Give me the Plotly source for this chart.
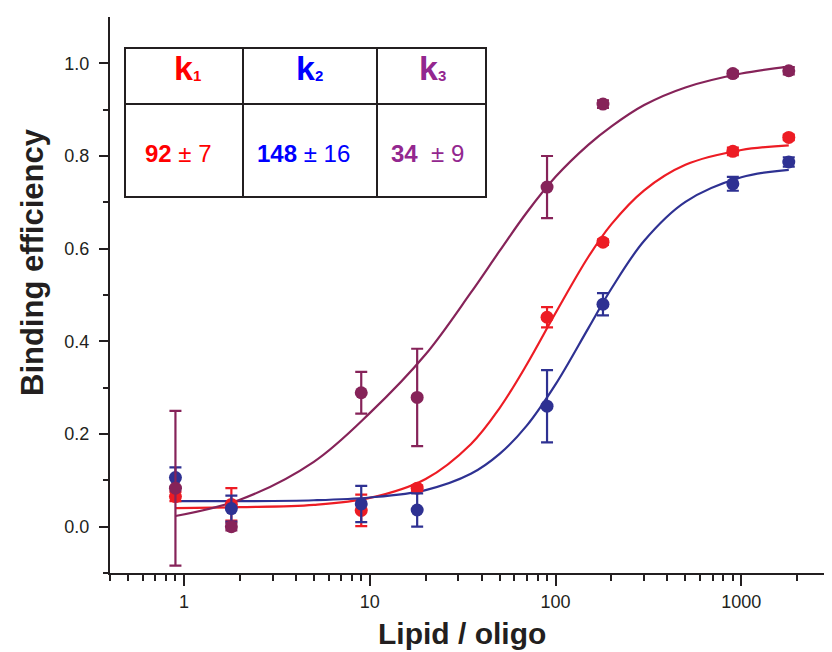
import plotly.graph_objects as go

# ---------------- data ----------------
lipid_oligo = [0.9, 1.8, 9, 18, 90, 180, 900, 1800]

k1_values = [0.065, 0.048, 0.035, 0.083, 0.452, 0.614, 0.810, 0.840]
k1_errors = [0.010, 0.035, 0.034, 0.006, 0.022, 0.006, 0.008, 0.006]

k2_values = [0.106, 0.039, 0.049, 0.036, 0.260, 0.480, 0.740, 0.787]
k2_errors = [0.022, 0.028, 0.039, 0.036, 0.078, 0.024, 0.015, 0.010]

k3_values = [0.083, 0.000, 0.289, 0.279, 0.733, 0.912, 0.978, 0.984]
k3_errors = [0.167, 0.008, 0.045, 0.105, 0.067, 0.008, 0.006, 0.008]

# fitted curves
fit_x = [0.9, 2, 5, 10, 20, 35, 50, 70, 100, 150, 200, 300, 500, 1000, 1800]
fit_k1 = [0.040, 0.042, 0.047, 0.062, 0.103, 0.178, 0.256, 0.350, 0.461, 0.582,
          0.653, 0.726, 0.781, 0.813, 0.823]
fit_k2 = [0.055, 0.055, 0.057, 0.063, 0.079, 0.114, 0.157, 0.218, 0.307, 0.428,
          0.514, 0.617, 0.701, 0.754, 0.770]
fit_k3 = [0.023, 0.058, 0.140, 0.245, 0.372, 0.505, 0.595, 0.678, 0.755, 0.824,
          0.864, 0.910, 0.948, 0.978, 0.993]

table_headers = ["k", "k", "k"]
table_subscripts = ["1", "2", "3"]
table_main = ["92", "148", "34"]
table_err = [" ± 7", " ± 16", "  ± 9"]

x_major_ticks = [1, 10, 100, 1000]
x_major_labels = ["1", "10", "100", "1000"]
x_minor_ticks = [0.4, 0.5, 0.6, 0.7, 0.8, 0.9,
                 2, 3, 4, 5, 6, 7, 8, 9,
                 20, 30, 40, 50, 60, 70, 80, 90,
                 200, 300, 400, 500, 600, 700, 800, 900,
                 2000, 3000]
y_major_ticks = [0.0, 0.2, 0.4, 0.6, 0.8, 1.0]
y_major_labels = ["0.0", "0.2", "0.4", "0.6", "0.8", "1.0"]
y_minor_ticks = [-0.1, 0.1, 0.3, 0.5, 0.7, 0.9]

# ---------------- styles ----------------
RED = "#ED1C24"
NAVY = "#2E3192"
PLUM = "#862359"
TXT_RED = "#FF0000"
TXT_BLUE = "#0000FF"
TXT_PURPLE = "#93278F"
INK = "#231F20"
FONT = "Liberation Sans, Arial, sans-serif"

OFF = 8  # page body margin
W, H = 824, 644
ML, MR, MT, MB = 102, 2, 9, 79
PW, PH = W - ML - MR, H - MT - MB


def px(xp):
    # screenshot pixel -> paper x
    return (xp - OFF - ML) / PW


def py(yp):
    # screenshot pixel -> paper y
    return (H - MB - (yp - OFF)) / PH


fig = go.Figure()

for fy, col in [(fit_k1, RED), (fit_k2, NAVY), (fit_k3, PLUM)]:
    fig.add_trace(go.Scatter(x=fit_x, y=fy, mode="lines",
                             line=dict(color=col, width=2.2, shape="spline", smoothing=1.0),
                             hoverinfo="skip", showlegend=False))

for vals, errs, col in [(k1_values, k1_errors, RED), (k2_values, k2_errors, NAVY),
                        (k3_values, k3_errors, PLUM)]:
    fig.add_trace(go.Scatter(x=lipid_oligo, y=vals, mode="markers",
                             marker=dict(color=col, size=13, line=dict(width=0)),
                             error_y=dict(type="data", array=errs, visible=True,
                                          color=col, thickness=2.2, width=6),
                             showlegend=False))

fig.update_xaxes(type="log", range=[-0.39794, 3.47712],
                 showline=True, linecolor=INK, linewidth=2,
                 ticks="outside", ticklen=11, tickwidth=2, tickcolor=INK,
                 tickmode="array", tickvals=x_major_ticks, ticktext=x_major_labels,
                 minor=dict(tickmode="array", tickvals=x_minor_ticks, ticks="outside",
                            ticklen=6, tickwidth=1.5, tickcolor=INK, showgrid=False),
                 showgrid=False, zeroline=False,
                 tickfont=dict(family=FONT, size=18, color=INK),
                 ticklabelstandoff=0)

fig.update_yaxes(range=[-0.1, 1.1],
                 showline=True, linecolor=INK, linewidth=2,
                 ticks="outside", ticklen=9, tickwidth=2, tickcolor=INK,
                 tickmode="array", tickvals=y_major_ticks, ticktext=y_major_labels,
                 minor=dict(tickmode="array", tickvals=y_minor_ticks, ticks="outside",
                            ticklen=5, tickwidth=1.5, tickcolor=INK, showgrid=False),
                 showgrid=False, zeroline=False,
                 tickfont=dict(family=FONT, size=18, color=INK),
                 ticklabelstandoff=6)

annotations = [
    dict(text="<b>Lipid / oligo</b>", x=px(462), y=py(633), xref="paper", yref="paper",
         showarrow=False, xanchor="center", yanchor="middle",
         font=dict(family=FONT, size=30, color=INK)),
    dict(text="<b>Binding efficiency</b>", x=px(32), y=py(262), xref="paper", yref="paper",
         showarrow=False, xanchor="center", yanchor="middle", textangle=-90,
         font=dict(family=FONT, size=31, color=INK)),
]

# table
shapes = [
    dict(type="rect", xref="paper", yref="paper", x0=px(125), x1=px(486), y0=py(197), y1=py(48),
         line=dict(color=INK, width=2), fillcolor="white", layer="above"),
    dict(type="line", xref="paper", yref="paper", x0=px(243), x1=px(243), y0=py(197), y1=py(48),
         line=dict(color=INK, width=2), layer="above"),
    dict(type="line", xref="paper", yref="paper", x0=px(377), x1=px(377), y0=py(197), y1=py(48),
         line=dict(color=INK, width=2), layer="above"),
    dict(type="line", xref="paper", yref="paper", x0=px(125), x1=px(486), y0=py(104), y1=py(104),
         line=dict(color=INK, width=2), layer="above"),
]

txt_cols = [TXT_RED, TXT_BLUE, TXT_PURPLE]
k_x = [183, 305, 428]
sub_x = [197, 319, 442]
val_x = [178, 303, 427]
for i in range(3):
    annotations.append(dict(text="<b>%s</b>" % table_headers[i], x=px(k_x[i]), y=py(89),
                            xref="paper", yref="paper", showarrow=False,
                            xanchor="center", yanchor="bottom",
                            font=dict(family=FONT, size=34, color=txt_cols[i])))
    annotations.append(dict(text="<b>%s</b>" % table_subscripts[i], x=px(sub_x[i]), y=py(86),
                            xref="paper", yref="paper", showarrow=False,
                            xanchor="center", yanchor="bottom",
                            font=dict(family=FONT, size=15, color=txt_cols[i])))
    annotations.append(dict(text="<b>%s</b>%s" % (table_main[i], table_err[i]),
                            x=px(val_x[i]), y=py(153), xref="paper", yref="paper",
                            showarrow=False, xanchor="center", yanchor="middle",
                            font=dict(family=FONT, size=24, color=txt_cols[i])))

fig.update_layout(width=W, height=H, margin=dict(l=ML, r=MR, t=MT, b=MB),
                  plot_bgcolor="white", paper_bgcolor="white",
                  annotations=annotations, shapes=shapes, showlegend=False)

fig.write_html("out.html")
